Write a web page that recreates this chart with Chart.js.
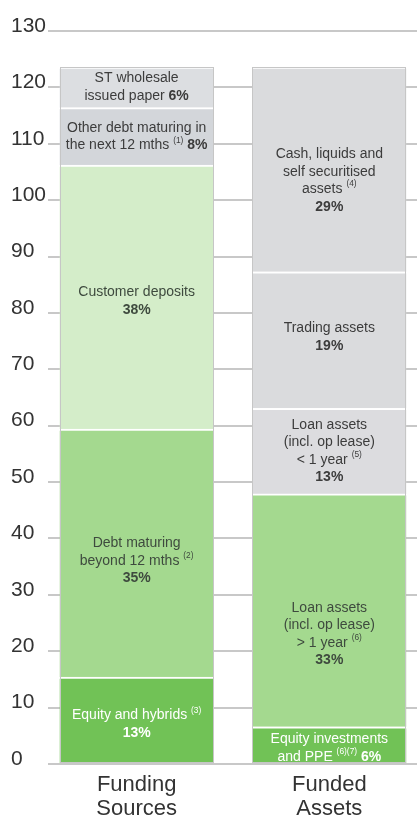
<!DOCTYPE html>
<html>
<head>
<meta charset="utf-8">
<script src="https://cdn.jsdelivr.net/npm/chart.js@4"></script>
<style>
  html, body { margin: 0; padding: 0; background: #fff; }
  #wrap { width: 417px; height: 818px; position: relative; }
</style>
</head>
<body>
<div id="wrap"><canvas id="chart"></canvas></div>
<script>
// x categories (two stacked columns)
var categories = [['Funding', 'Sources'], ['Funded', 'Assets']];

// funding side, bottom to top
var fundingNames = ['Equity and hybrids', 'Debt maturing beyond 12 mths', 'Customer deposits', 'Other debt maturing in the next 12 mths', 'ST wholesale issued paper'];
var fundingValues = [15.4, 44.0, 46.8, 10.2, 7.2];
var fundingText = [
  ['Equity and hybrids ^(3)^', '*13%*'],
  ['Debt maturing', 'beyond 12 mths ^(2)^', '*35%*'],
  ['Customer deposits', '*38%*'],
  ['Other debt maturing in', 'the next 12 mths ^(1)^ *8%*'],
  ['ST wholesale', 'issued paper *6%*']
];

// funded side, bottom to top
var fundedNames = ['Equity investments and PPE', 'Loan assets > 1 year', 'Loan assets < 1 year', 'Trading assets', 'Cash, liquids and self securitised assets'];
var fundedValues = [6.6, 41.3, 15.2, 24.2, 36.3];
var fundedText = [
  ['Equity investments', 'and PPE ^(6)(7)^ *6%*'],
  ['Loan assets', '(incl. op lease)', '> 1 year ^(6)^', '*33%*'],
  ['Loan assets', '(incl. op lease)', '< 1 year ^(5)^', '*13%*'],
  ['Trading assets', '*19%*'],
  ['Cash, liquids and', 'self securitised', 'assets ^(4)^', '*29%*']
];

// y axis
var yMax = 130;
var yStep = 10;

// styles
var fundingColors = ['#71c256', '#a4d98f', '#d4edc9', '#d3d6da', '#dcdee1'];
var fundedColors = ['#71c256', '#a4d98f', '#dcdcdf', '#dadbdd', '#dadbdd'];
var fundingInk = ['#ffffff', '#3e4a3e', '#3e4a3e', '#3c3c3c', '#3c3c3c'];
var fundedInk = ['#ffffff', '#3e4a3e', '#3c3c3c', '#3c3c3c', '#3c3c3c'];
var fundingShift = [4, 8, 4, 0, 0];
var fundedShift = [3, 24, 0, -3, 11];

function hasFont(name) {
  var c = document.createElement('canvas').getContext('2d');
  c.font = '40px monospace';
  var a = c.measureText('mmmwwwiiilll').width;
  c.font = '40px "' + name + '", monospace';
  return c.measureText('mmmwwwiiilll').width !== a;
}
var narrow = hasFont('Liberation Sans Narrow');
var segFamily = narrow ? '"Liberation Sans Narrow"' : '"Liberation Sans", Arial';
var segSize = narrow ? 15.5 : 14;
var segLine = 17.5;

function parseLine(line) {
  return line.split(/(\^[^\^]*\^|\*[^*]*\*)/).filter(function(s) { return s.length; }).map(function(s) {
    if (s[0] === '^') return { t: s.slice(1, -1), sup: true };
    if (s[0] === '*') return { t: s.slice(1, -1), bold: true };
    return { t: s };
  });
}

function runFont(r) {
  if (r.sup) return (segSize * 0.6) + 'px ' + segFamily;
  return (r.bold ? 'bold ' : '') + segSize + 'px ' + segFamily;
}

function drawLines(ctx, lines, cx, cy, color) {
  var y = cy - (lines.length - 1) * segLine / 2;
  lines.forEach(function(line) {
    var runs = parseLine(line);
    var total = 0;
    runs.forEach(function(r) {
      ctx.font = runFont(r);
      r.w = ctx.measureText(r.t).width;
      total += r.w;
    });
    var x = cx - total / 2;
    runs.forEach(function(r) {
      ctx.font = runFont(r);
      ctx.fillStyle = color;
      ctx.textAlign = 'left';
      ctx.textBaseline = 'middle';
      ctx.fillText(r.t, x, y + (r.sup ? -5 : 0));
      x += r.w;
    });
    y += segLine;
  });
}

var segmentLabels = {
  id: 'segmentLabels',
  afterDatasetsDraw: function(chart) {
    var ctx = chart.ctx;
    var boxes = {};
    ctx.save();
    chart.data.datasets.forEach(function(ds, i) {
      var meta = chart.getDatasetMeta(i);
      meta.data.forEach(function(bar) {
        var p = bar.getProps(['x', 'y', 'base', 'width'], true);
        var key = Math.round(p.x);
        var b = boxes[key] || (boxes[key] = { x: p.x, w: p.width, top: p.y, bottom: p.base });
        b.top = Math.min(b.top, p.y);
        b.bottom = Math.max(b.bottom, p.base);
        drawLines(ctx, ds.text, p.x, (p.y + p.base) / 2 + ds.shift, ds.ink);
      });
    });
    // thin grey outline round each column
    ctx.strokeStyle = '#c6c6c6';
    ctx.lineWidth = 1;
    Object.keys(boxes).forEach(function(k) {
      var b = boxes[k];
      ctx.strokeRect(Math.round(b.x - b.w / 2) + 0.5, Math.round(b.top) + 0.5, Math.round(b.w) - 1, Math.round(b.bottom - b.top) - 1);
    });
    ctx.restore();
  }
};

var datasets = [];
fundingValues.forEach(function(v, i) {
  datasets.push({ label: fundingNames[i], data: [{ x: 1, y: v }], backgroundColor: fundingColors[i], text: fundingText[i], ink: fundingInk[i], shift: fundingShift[i] });
});
fundedValues.forEach(function(v, i) {
  datasets.push({ label: fundedNames[i], data: [{ x: 2, y: v }], backgroundColor: fundedColors[i], text: fundedText[i], ink: fundedInk[i], shift: fundedShift[i] });
});

var ctx = document.getElementById('chart').getContext('2d');
var chart = new Chart(ctx, {
  type: 'bar',
  data: { datasets: datasets },
  options: {
    responsive: true,
    maintainAspectRatio: false,
    animation: false,
    layout: { padding: { left: 11, top: 31, right: 0, bottom: 0 } },
    plugins: {
      legend: { display: false },
      tooltip: { enabled: false }
    },
    datasets: {
      bar: {
        barThickness: 154,
        borderColor: 'rgba(255,255,255,0.9)',
        borderWidth: { top: 2, left: 0, right: 0, bottom: 0 },
        borderSkipped: false
      }
    },
    scales: {
      x: {
        type: 'linear',
        stacked: true,
        offset: false,
        min: 0.54,
        max: 2.455,
        grid: { display: false, drawTicks: false, offset: false },
        border: { display: false },
        afterBuildTicks: function(s) {
          s.ticks = categories.map(function(c, i) { return { value: i + 1 }; });
        },
        afterFit: function(s) { s.height = 54; },
        ticks: {
          padding: 9,
          color: '#333',
          maxRotation: 0,
          autoSkip: false,
          font: { family: '"Liberation Sans", Arial', size: 22, lineHeight: 1.1 },
          callback: function(v) { return categories[v - 1]; }
        }
      },
      y: {
        stacked: true,
        min: 0,
        max: yMax,
        grid: { color: '#c8c8c8', lineWidth: 2, drawTicks: false },
        border: { display: false },
        afterFit: function(s) { s.width = 37; },
        ticks: {
          stepSize: yStep,
          crossAlign: 'far',
          padding: 2,
          labelOffset: -5,
          color: '#333',
          font: { family: '"Liberation Sans", Arial', size: 21 }
        }
      }
    }
  },
  plugins: [segmentLabels]
});
</script>
</body>
</html>
